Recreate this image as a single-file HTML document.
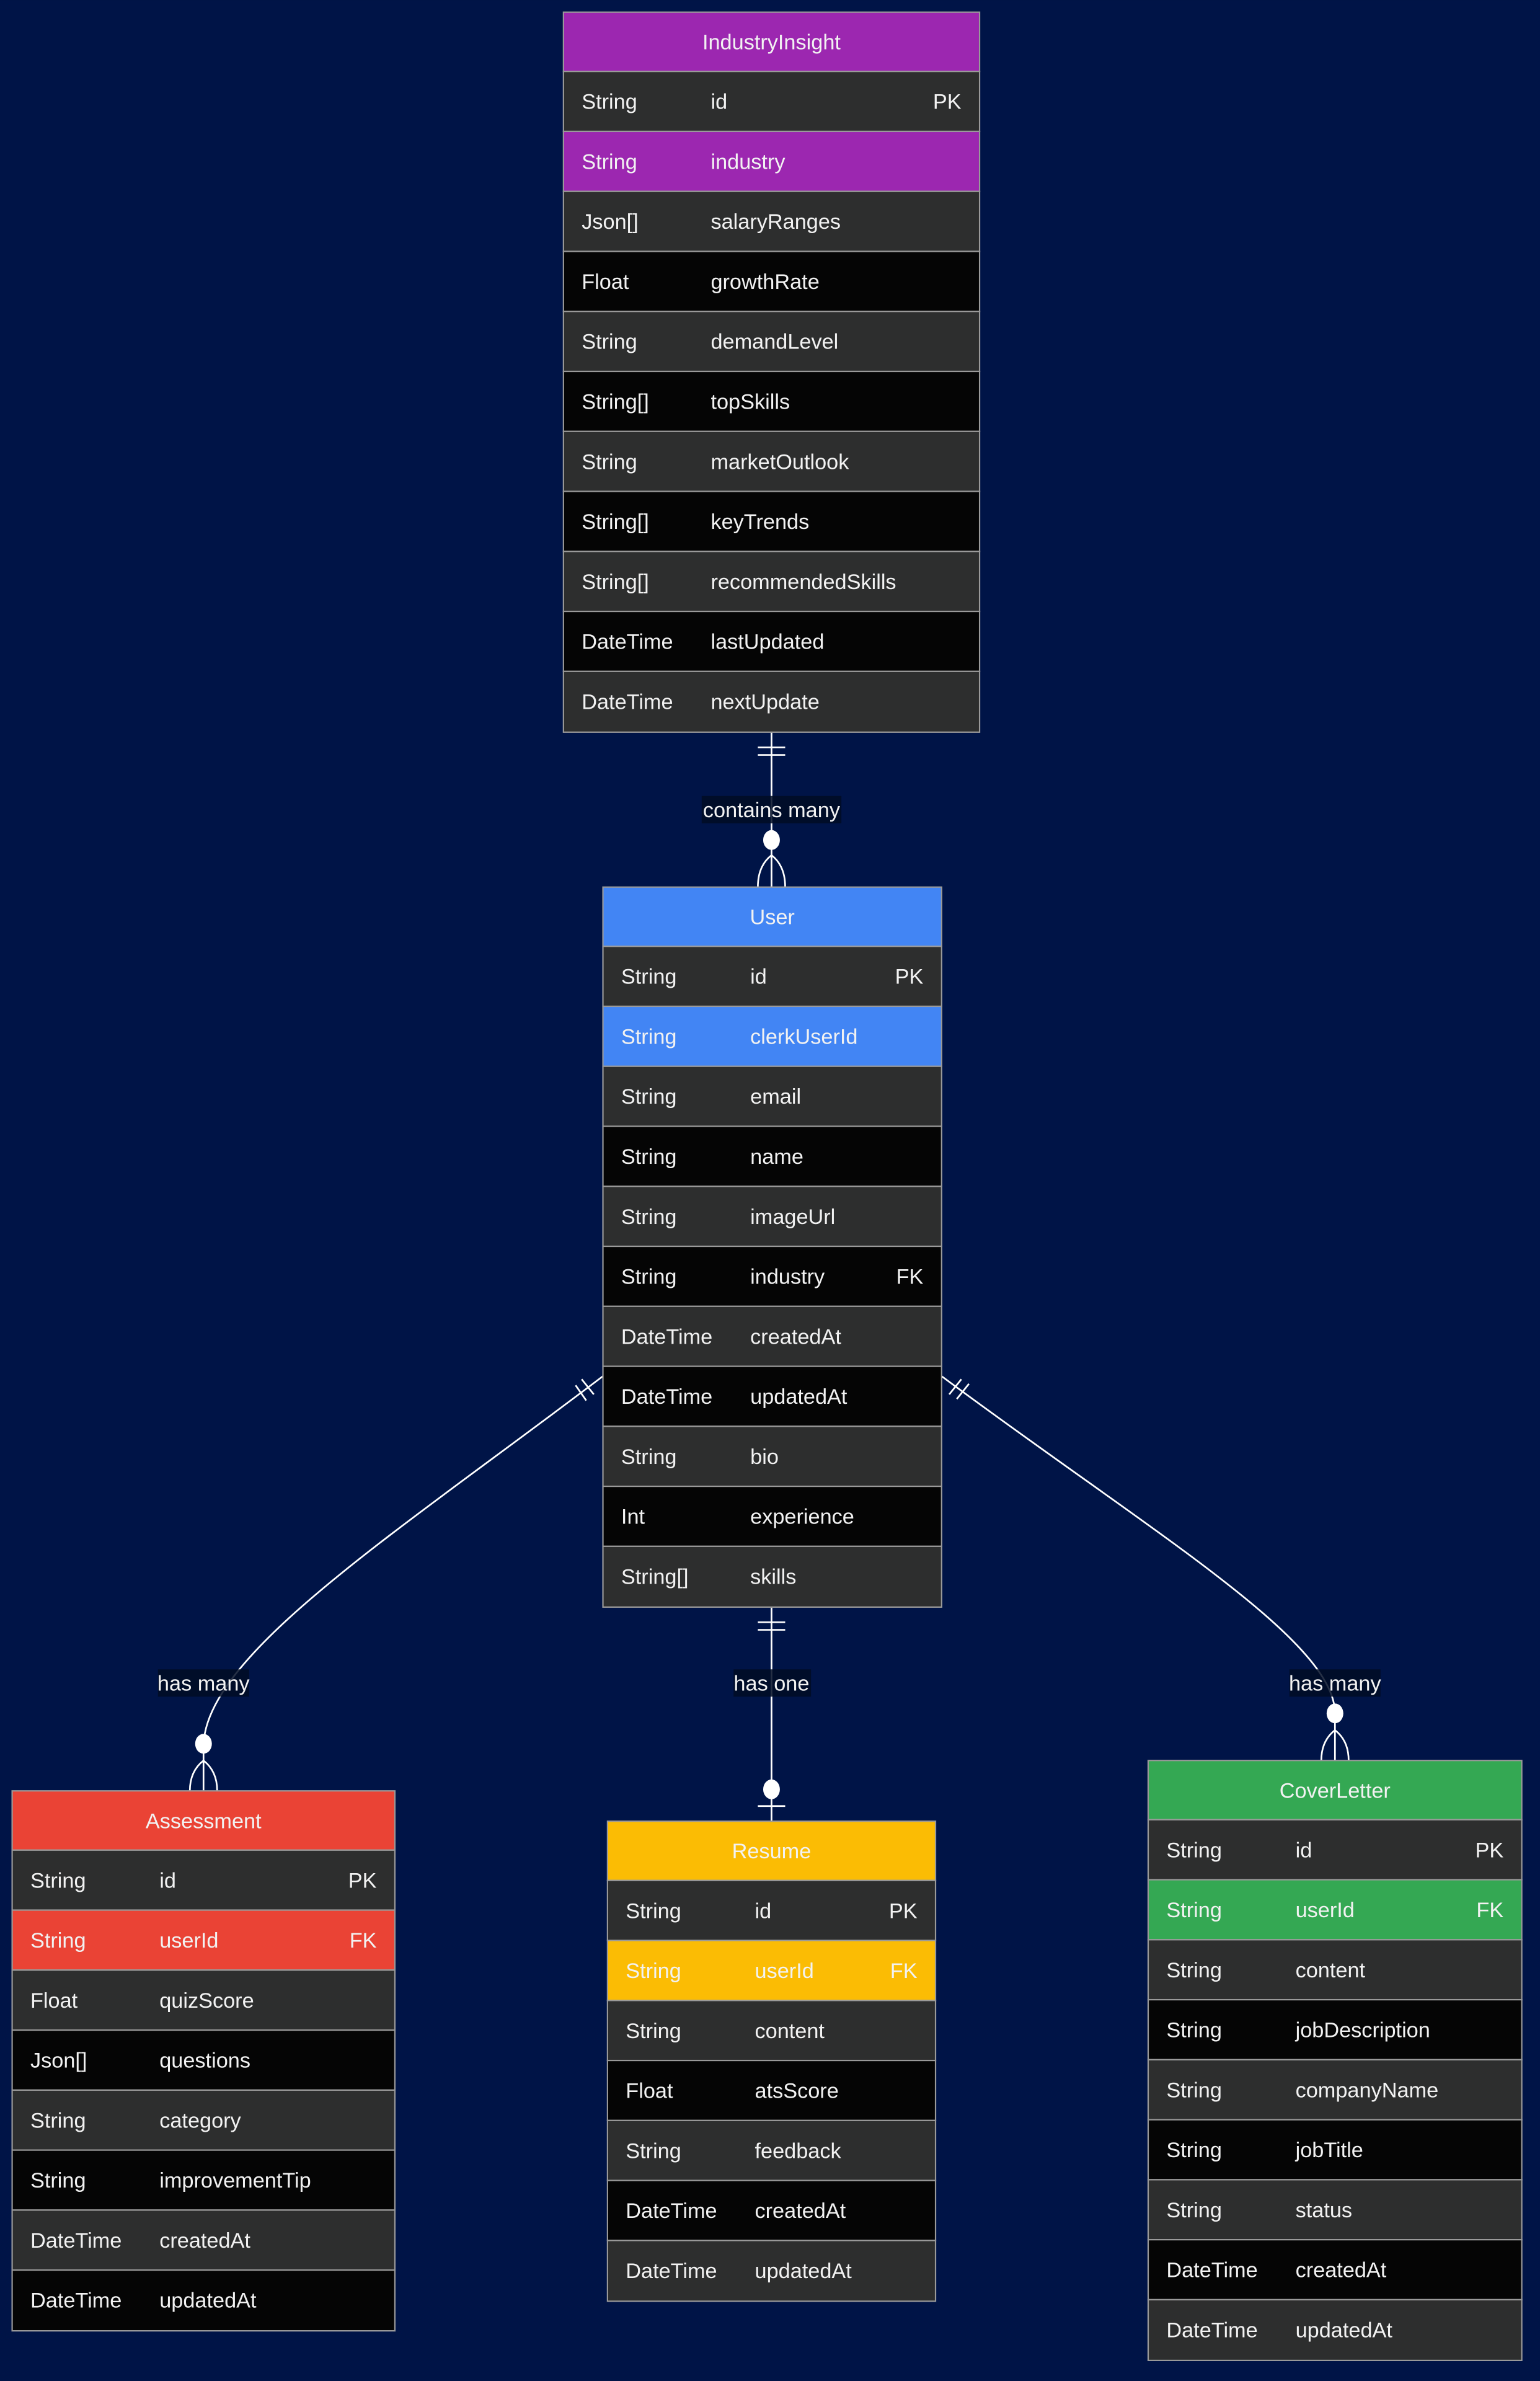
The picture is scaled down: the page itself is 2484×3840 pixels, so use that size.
<!DOCTYPE html>
<html><head><meta charset="utf-8"><style>
html,body{margin:0;padding:0;background:#001447;}
svg{display:block}
text{font-family:"Liberation Sans",Arial,sans-serif;font-size:14px;fill:#f2f2f2}
.g{fill:#2d2e2e}.b{fill:#050505}
.r{stroke:#9a9a9a;stroke-width:0.9}
.l{stroke:#fff;stroke-width:1.1;fill:none}
.lb{fill:#000c24}
</style></head><body>
<svg width="2484" height="3840" viewBox="0 0 1014 1567.5" xmlns="http://www.w3.org/2000/svg">
<rect x="0" y="0" width="1014" height="1568" fill="#001447"/>

<!-- connectors -->
<g class="l">
<!-- II - User -->
<line x1="508" y1="482" x2="508" y2="584"/>
<line x1="499" y1="492" x2="517" y2="492"/><line x1="499" y1="497" x2="517" y2="497"/>
<path d="M499,584 Q499,570 508,563 Q517,570 517,584"/>
<!-- User - Resume -->
<line x1="508" y1="1058" x2="508" y2="1199"/>
<line x1="499" y1="1068" x2="517" y2="1068"/><line x1="499" y1="1073" x2="517" y2="1073"/>
<line x1="499" y1="1189" x2="517" y2="1189"/>
<!-- User - Assessment -->
<path d="M397,906 C260,1010 134,1090 134,1150 L134,1179"/>
<line x1="379" y1="912" x2="386" y2="922"/><line x1="383" y1="908" x2="391" y2="918"/>
<path d="M125,1179 Q125,1166 134,1159 Q143,1166 143,1179"/>
<!-- User - CoverLetter -->
<path d="M620,906 C760,1010 879,1080 879,1128 L879,1159"/>
<line x1="625" y1="918" x2="633" y2="908"/><line x1="630" y1="921" x2="638" y2="911"/>
<path d="M870,1159 Q870,1146 879,1139 Q888,1146 888,1159"/>
</g>
<g fill="#fff">
<ellipse cx="508" cy="553" rx="5.5" ry="6.5"/>
<ellipse cx="508" cy="1178" rx="5.5" ry="6.5"/>
<ellipse cx="134" cy="1148" rx="5.5" ry="6.5"/>
<ellipse cx="879" cy="1128" rx="5.5" ry="6.5"/>
</g>
<g>
<rect class="lb" x="462" y="524" width="92" height="18" opacity="0.85"/><text x="508" y="538" text-anchor="middle">contains many</text>
<rect class="lb" x="483" y="1099" width="51" height="18" opacity="0.85"/><text x="508" y="1113" text-anchor="middle">has one</text>
<rect class="lb" x="104" y="1099" width="60" height="18" opacity="0.85"/><text x="134" y="1113" text-anchor="middle">has many</text>
<rect class="lb" x="849" y="1099" width="60" height="18" opacity="0.85"/><text x="879" y="1113" text-anchor="middle">has many</text>
</g>

<!-- IndustryInsight -->
<g>
<rect class="r" x="371" y="8" width="274" height="39" fill="#9c27b0"/>
<text x="508" y="32.5" text-anchor="middle">IndustryInsight</text>
<rect class="r g" x="371" y="47" width="274" height="39.5"/>
<rect class="r" x="371" y="86.5" width="274" height="39.5" fill="#9c27b0"/>
<rect class="r g" x="371" y="126" width="274" height="39.5"/>
<rect class="r b" x="371" y="165.5" width="274" height="39.5"/>
<rect class="r g" x="371" y="205" width="274" height="39.5"/>
<rect class="r b" x="371" y="244.5" width="274" height="39.5"/>
<rect class="r g" x="371" y="284" width="274" height="39.5"/>
<rect class="r b" x="371" y="323.5" width="274" height="39.5"/>
<rect class="r g" x="371" y="363" width="274" height="39.5"/>
<rect class="r b" x="371" y="402.5" width="274" height="39.5"/>
<rect class="r g" x="371" y="442" width="274" height="40"/>
<text x="383" y="71.7">String</text><text x="468" y="71.7">id</text><text x="633" y="71.7" text-anchor="end">PK</text>
<text x="383" y="111.2">String</text><text x="468" y="111.2">industry</text>
<text x="383" y="150.7">Json[]</text><text x="468" y="150.7">salaryRanges</text>
<text x="383" y="190.2">Float</text><text x="468" y="190.2">growthRate</text>
<text x="383" y="229.7">String</text><text x="468" y="229.7">demandLevel</text>
<text x="383" y="269.2">String[]</text><text x="468" y="269.2">topSkills</text>
<text x="383" y="308.7">String</text><text x="468" y="308.7">marketOutlook</text>
<text x="383" y="348.2">String[]</text><text x="468" y="348.2">keyTrends</text>
<text x="383" y="387.7">String[]</text><text x="468" y="387.7">recommendedSkills</text>
<text x="383" y="427.2">DateTime</text><text x="468" y="427.2">lastUpdated</text>
<text x="383" y="466.7">DateTime</text><text x="468" y="466.7">nextUpdate</text>
</g>

<!-- User -->
<g>
<rect class="r" x="397" y="584" width="223" height="39" fill="#4285f4"/>
<text x="508.5" y="608.5" text-anchor="middle">User</text>
<rect class="r g" x="397" y="623" width="223" height="39.5"/>
<rect class="r" x="397" y="662.5" width="223" height="39.5" fill="#4285f4"/>
<rect class="r g" x="397" y="702" width="223" height="39.5"/>
<rect class="r b" x="397" y="741.5" width="223" height="39.5"/>
<rect class="r g" x="397" y="781" width="223" height="39.5"/>
<rect class="r b" x="397" y="820.5" width="223" height="39.5"/>
<rect class="r g" x="397" y="860" width="223" height="39.5"/>
<rect class="r b" x="397" y="899.5" width="223" height="39.5"/>
<rect class="r g" x="397" y="939" width="223" height="39.5"/>
<rect class="r b" x="397" y="978.5" width="223" height="39.5"/>
<rect class="r g" x="397" y="1018" width="223" height="40"/>
<text x="409" y="647.7">String</text><text x="494" y="647.7">id</text><text x="608" y="647.7" text-anchor="end">PK</text>
<text x="409" y="687.2">String</text><text x="494" y="687.2">clerkUserId</text>
<text x="409" y="726.7">String</text><text x="494" y="726.7">email</text>
<text x="409" y="766.2">String</text><text x="494" y="766.2">name</text>
<text x="409" y="805.7">String</text><text x="494" y="805.7">imageUrl</text>
<text x="409" y="845.2">String</text><text x="494" y="845.2">industry</text><text x="608" y="845.2" text-anchor="end">FK</text>
<text x="409" y="884.7">DateTime</text><text x="494" y="884.7">createdAt</text>
<text x="409" y="924.2">DateTime</text><text x="494" y="924.2">updatedAt</text>
<text x="409" y="963.7">String</text><text x="494" y="963.7">bio</text>
<text x="409" y="1003.2">Int</text><text x="494" y="1003.2">experience</text>
<text x="409" y="1042.7">String[]</text><text x="494" y="1042.7">skills</text>
</g>

<!-- Assessment -->
<g>
<rect class="r" x="8" y="1179" width="252" height="39" fill="#ea4335"/>
<text x="134" y="1203.5" text-anchor="middle">Assessment</text>
<rect class="r g" x="8" y="1218" width="252" height="39.5"/>
<rect class="r" x="8" y="1257.5" width="252" height="39.5" fill="#ea4335"/>
<rect class="r g" x="8" y="1297" width="252" height="39.5"/>
<rect class="r b" x="8" y="1336.5" width="252" height="39.5"/>
<rect class="r g" x="8" y="1376" width="252" height="39.5"/>
<rect class="r b" x="8" y="1415.5" width="252" height="39.5"/>
<rect class="r g" x="8" y="1455" width="252" height="39.5"/>
<rect class="r b" x="8" y="1494.5" width="252" height="40"/>
<text x="20" y="1242.7">String</text><text x="105" y="1242.7">id</text><text x="248" y="1242.7" text-anchor="end">PK</text>
<text x="20" y="1282.2">String</text><text x="105" y="1282.2">userId</text><text x="248" y="1282.2" text-anchor="end">FK</text>
<text x="20" y="1321.7">Float</text><text x="105" y="1321.7">quizScore</text>
<text x="20" y="1361.2">Json[]</text><text x="105" y="1361.2">questions</text>
<text x="20" y="1400.7">String</text><text x="105" y="1400.7">category</text>
<text x="20" y="1440.2">String</text><text x="105" y="1440.2">improvementTip</text>
<text x="20" y="1479.7">DateTime</text><text x="105" y="1479.7">createdAt</text>
<text x="20" y="1519.2">DateTime</text><text x="105" y="1519.2">updatedAt</text>
</g>

<!-- Resume -->
<g>
<rect class="r" x="400" y="1199" width="216" height="39" fill="#fbbc04"/>
<text x="508" y="1223.5" text-anchor="middle">Resume</text>
<rect class="r g" x="400" y="1238" width="216" height="39.5"/>
<rect class="r" x="400" y="1277.5" width="216" height="39.5" fill="#fbbc04"/>
<rect class="r g" x="400" y="1317" width="216" height="39.5"/>
<rect class="r b" x="400" y="1356.5" width="216" height="39.5"/>
<rect class="r g" x="400" y="1396" width="216" height="39.5"/>
<rect class="r b" x="400" y="1435.5" width="216" height="39.5"/>
<rect class="r g" x="400" y="1475" width="216" height="40"/>
<text x="412" y="1262.7">String</text><text x="497" y="1262.7">id</text><text x="604" y="1262.7" text-anchor="end">PK</text>
<text x="412" y="1302.2">String</text><text x="497" y="1302.2">userId</text><text x="604" y="1302.2" text-anchor="end">FK</text>
<text x="412" y="1341.7">String</text><text x="497" y="1341.7">content</text>
<text x="412" y="1381.2">Float</text><text x="497" y="1381.2">atsScore</text>
<text x="412" y="1420.7">String</text><text x="497" y="1420.7">feedback</text>
<text x="412" y="1460.2">DateTime</text><text x="497" y="1460.2">createdAt</text>
<text x="412" y="1499.7">DateTime</text><text x="497" y="1499.7">updatedAt</text>
</g>

<!-- CoverLetter -->
<g>
<rect class="r" x="756" y="1159" width="246" height="39" fill="#34a853"/>
<text x="879" y="1183.5" text-anchor="middle">CoverLetter</text>
<rect class="r g" x="756" y="1198" width="246" height="39.5"/>
<rect class="r" x="756" y="1237.5" width="246" height="39.5" fill="#34a853"/>
<rect class="r g" x="756" y="1277" width="246" height="39.5"/>
<rect class="r b" x="756" y="1316.5" width="246" height="39.5"/>
<rect class="r g" x="756" y="1356" width="246" height="39.5"/>
<rect class="r b" x="756" y="1395.5" width="246" height="39.5"/>
<rect class="r g" x="756" y="1435" width="246" height="39.5"/>
<rect class="r b" x="756" y="1474.5" width="246" height="39.5"/>
<rect class="r g" x="756" y="1514" width="246" height="40"/>
<text x="768" y="1222.7">String</text><text x="853" y="1222.7">id</text><text x="990" y="1222.7" text-anchor="end">PK</text>
<text x="768" y="1262.2">String</text><text x="853" y="1262.2">userId</text><text x="990" y="1262.2" text-anchor="end">FK</text>
<text x="768" y="1301.7">String</text><text x="853" y="1301.7">content</text>
<text x="768" y="1341.2">String</text><text x="853" y="1341.2">jobDescription</text>
<text x="768" y="1380.7">String</text><text x="853" y="1380.7">companyName</text>
<text x="768" y="1420.2">String</text><text x="853" y="1420.2">jobTitle</text>
<text x="768" y="1459.7">String</text><text x="853" y="1459.7">status</text>
<text x="768" y="1499.2">DateTime</text><text x="853" y="1499.2">createdAt</text>
<text x="768" y="1538.7">DateTime</text><text x="853" y="1538.7">updatedAt</text>
</g>
</svg>
</body></html>
